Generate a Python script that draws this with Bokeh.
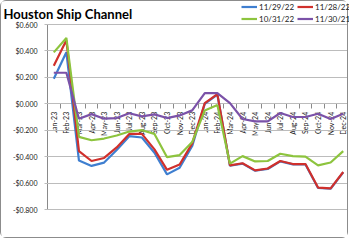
from bokeh.plotting import figure
from bokeh.models import (FixedTicker, Legend, LegendItem, Label, Range1d,
                          CustomJSTickFormatter, LinearAxis)
from bokeh.embed import file_html
from bokeh.resources import INLINE

months = ["Jan-23", "Feb-23", "Mar-23", "Apr-23", "May-23", "Jun-23", "Jul-23", "Aug-23",
          "Sep-23", "Oct-23", "Nov-23", "Dec-23", "Jan-24", "Feb-24", "Mar-24", "Apr-24",
          "May-24", "Jun-24", "Jul-24", "Aug-24", "Sep-24", "Oct-24", "Nov-24", "Dec-24"]

s_112922 = [0.19, 0.39, -0.43, -0.47, -0.445, -0.35, -0.245, -0.255, -0.37, -0.534, -0.484, -0.32,
            0.0, 0.07, -0.469, -0.453, -0.507, -0.493, -0.436, -0.459, -0.459, -0.637, -0.643, -0.519]
s_112822 = [0.288, 0.48, -0.358, -0.433, -0.41, -0.33, -0.228, -0.228, -0.345, -0.50, -0.46, -0.30,
            0.005, 0.073, -0.466, -0.45, -0.504, -0.49, -0.433, -0.456, -0.456, -0.634, -0.64, -0.516]
s_103122 = [0.389, 0.498, -0.25, -0.276, -0.263, -0.24, -0.21, -0.2, -0.228, -0.404, -0.388, -0.29,
            -0.05, -0.01, -0.453, -0.396, -0.436, -0.433, -0.378, -0.396, -0.40, -0.466, -0.444, -0.358]
s_113021 = [0.235, 0.235, -0.113, -0.078, -0.113, -0.108, -0.072, -0.095, -0.08, -0.108, -0.088, -0.05,
            0.08, 0.08, 0.005, -0.115, -0.133, -0.133, -0.07, -0.1, -0.1, -0.075, -0.115, -0.075]

series_names = ["11/29/22", "11/28/22", "10/31/22", "11/30/21"]
series_values = [s_112922, s_112822, s_103122, s_113021]
colors = ["#3F7FD0", "#D0302C", "#8DC43E", "#7B52A8"]

yticks = [-0.8, -0.6, -0.4, -0.2, 0.0, 0.2, 0.4, 0.6]
y_min, y_max = -0.8, 0.6
title_text = "Houston Ship Channel"

FONT = "Lato"
n = len(months)
x = list(range(n))

# layout (canvas pixels): the frame covers the whole canvas, the plot area sits inside it
W, H = 348, 238
PL, PR, PT, PB = 46, 348, 23, 208
ppc = (PR - PL) / n
x_start = -0.5 - PL / ppc
x_end = n - 0.5 + (W - PR) / ppc
ppu = (PB - PT) / (y_max - y_min)
y_end = y_max + PT / ppu
y_start = y_min - (H - PB) / ppu

p = figure(width=W, height=H, output_backend="svg", toolbar_location=None,
           x_range=Range1d(x_start, x_end), y_range=Range1d(y_start, y_end),
           x_axis_location=None, y_axis_location=None)
p.styles = {"border": "1px solid #8c8c8c", "border-radius": "6px"}
p.min_border = 0
p.min_border_left = 0
p.min_border_right = 0
p.min_border_top = 0
p.min_border_bottom = 0
p.outline_line_color = None
p.background_fill_color = "white"
p.border_fill_color = "white"
p.xgrid.visible = False
p.ygrid.visible = False

GRID = "#bcbcbc"
AX = "#8a8a8a"

# y axis at the left edge of the plot area; its inward ticks serve as gridlines
yax = LinearAxis(fixed_location=-0.5, level="underlay", bounds=(y_min, y_max))
yax.ticker = FixedTicker(ticks=yticks)
yax.formatter = CustomJSTickFormatter(code="return (tick < -1e-9 ? '-' : '') + '$' + Math.abs(tick).toFixed(3);")
yax.major_label_text_font = FONT
yax.major_label_text_font_size = "7px"
yax.major_label_text_color = "#222222"
yax.axis_line_color = AX
yax.major_tick_line_color = GRID
yax.major_tick_out = 3
yax.major_tick_in = PR - PL
yax.minor_tick_line_color = None
yax.major_label_standoff = 7
p.add_layout(yax, "left")

xax = LinearAxis(fixed_location=0, level="underlay", bounds=(-0.5, n - 0.5))
xax.ticker = FixedTicker(ticks=x, minor_ticks=[i - 0.5 for i in range(n + 1)])
xax.major_label_overrides = {i: m for i, m in enumerate(months)}
xax.major_label_orientation = 3.14159265 / 2
xax.major_label_text_font = FONT
xax.major_label_text_font_size = "7px"
xax.major_label_text_color = "#222222"
xax.major_tick_line_color = None
xax.minor_tick_line_color = AX
xax.minor_tick_out = 5
xax.minor_tick_in = 0
xax.axis_line_color = AX
xax.major_label_standoff = 2
p.add_layout(xax, "below")

renderers = []
for name, vals, c in zip(series_names, series_values, colors):
    r = p.line(x, vals, line_color=c, line_width=2.2)
    renderers.append((name, r))

legend = Legend(items=[LegendItem(label=nm, renderers=[r]) for nm, r in renderers],
                orientation="horizontal", ncols=2, location=(240, H - 23),
                label_text_font=FONT, label_text_font_size="8px", label_text_color="#222222",
                glyph_width=16, glyph_height=11, label_standoff=2, spacing=1,
                label_width=37, label_height=11,
                padding=0, margin=0, border_line_color=None, background_fill_alpha=0)
p.add_layout(legend, "center")

title = Label(x=2, y=H - 12, x_units="screen", y_units="screen", text=title_text,
              text_font=FONT, text_font_size="13px", text_font_style="bold",
              text_color="#000000", text_baseline="alphabetic")
p.add_layout(title)

open("out.html", "w").write(file_html(p, INLINE))
